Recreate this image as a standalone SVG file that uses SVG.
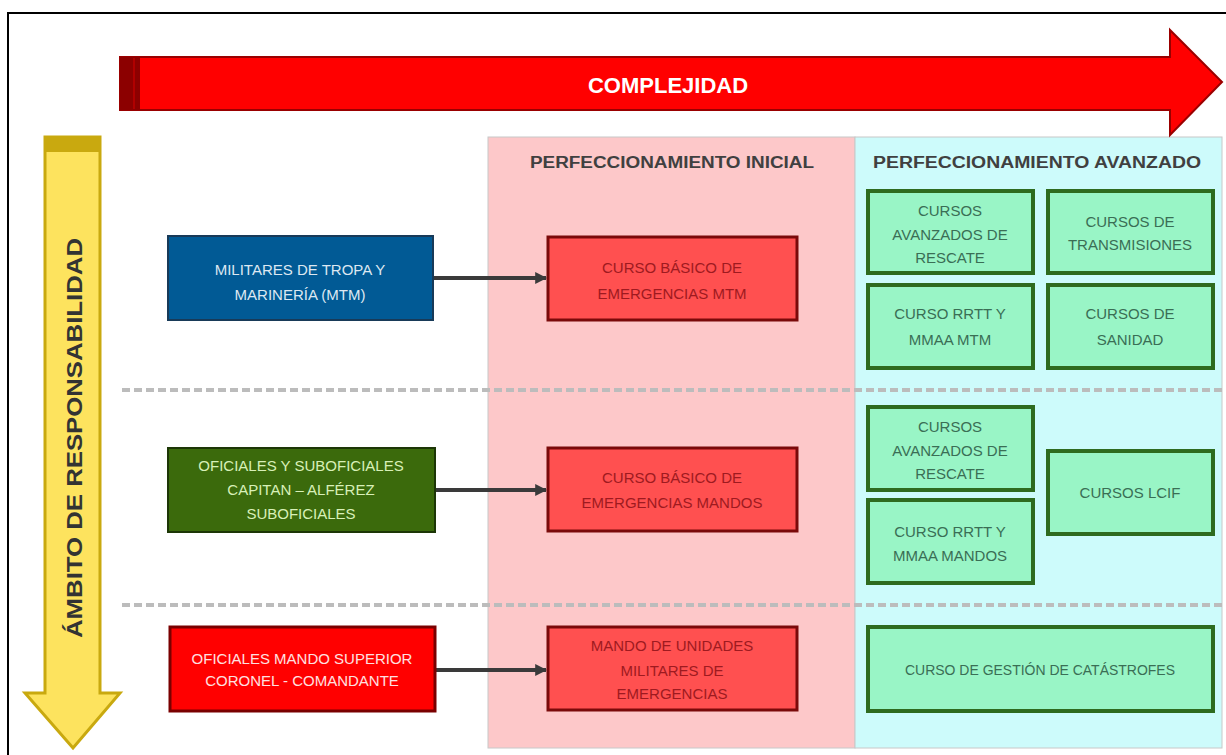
<svg xmlns="http://www.w3.org/2000/svg" width="1226" height="755" viewBox="0 0 1226 755">
<defs>
<style>
.t{font-family:"Liberation Sans",Arial,sans-serif;font-size:15px;text-anchor:middle}
.hd{font-family:"Liberation Sans",Arial,sans-serif;font-size:16px;font-weight:bold;fill:#404040;text-anchor:middle}
.red{fill:#ff5050;stroke:#7a0a0a;stroke-width:3}
.redt{fill:#9e1a20}
.grn{fill:#99f5c6;stroke:#2e6b1f;stroke-width:4}
.grnt{fill:#3a6e55}
.dash{stroke:#bcbcbc;stroke-width:4;stroke-dasharray:8 4}
.conn{stroke:#3a3a3a;stroke-width:4;fill:none;marker-end:url(#ah)}
</style>
<marker id="ah" viewBox="0 0 10 10" refX="9" refY="5" markerWidth="3" markerHeight="3" orient="auto" markerUnits="strokeWidth">
<path d="M0,0 L10,5 L0,10 z" fill="#3a3a3a"/>
</marker>
</defs>
<rect x="0" y="0" width="1226" height="755" fill="#ffffff"/>
<path d="M8,755 V13 H1226" fill="none" stroke="#000" stroke-width="2"/>

<g id="panels">
<rect x="488" y="137" width="367" height="611" fill="#fdc8c9" stroke="#c8c8c8" stroke-width="1"/>
<rect x="855" y="137" width="367" height="611" fill="#cdfbfb" stroke="#c8c8c8" stroke-width="1"/>
<text class="hd" x="672" y="168" textLength="284" lengthAdjust="spacingAndGlyphs">PERFECCIONAMIENTO INICIAL</text>
<text class="hd" x="1037" y="168" textLength="328" lengthAdjust="spacingAndGlyphs">PERFECCIONAMIENTO AVANZADO</text>
</g>

<g id="separators">
<line class="dash" x1="122" y1="390" x2="1222" y2="390"/>
<line class="dash" x1="122" y1="605" x2="1222" y2="605"/>
</g>

<g id="complejidad">
<path d="M120,57 H1170 V30 L1222,82 L1170,135 V110 H120 Z" fill="#ff0000" stroke="#9a0000" stroke-width="2"/>
<rect x="120" y="57" width="20" height="53" fill="#8c0000"/>
<line x1="134" y1="58" x2="134" y2="109" stroke="#b00000" stroke-width="2"/>
<text x="668" y="93" font-family="'Liberation Sans',Arial,sans-serif" font-size="22" font-weight="bold" fill="#ffffff" text-anchor="middle">COMPLEJIDAD</text>
</g>

<g id="ambito">
<path d="M45,137 H100 V693 H120 L73,748 L25,693 H45 Z" fill="#fde35e" stroke="#c9a90f" stroke-width="3"/>
<rect x="46" y="138" width="53" height="14" fill="#c9a90f"/>
<text transform="translate(82,438) rotate(-90)" x="0" y="0" font-family="'Liberation Sans',Arial,sans-serif" font-size="22" font-weight="bold" fill="#333333" text-anchor="middle" textLength="400" lengthAdjust="spacingAndGlyphs">ÁMBITO DE RESPONSABILIDAD</text>
</g>

<g id="connectors">
<line class="conn" x1="433" y1="278" x2="546" y2="278"/>
<line class="conn" x1="435" y1="490" x2="546" y2="490"/>
<line class="conn" x1="435" y1="670" x2="546" y2="670"/>
</g>

<g id="mtm">
<rect x="168" y="236" width="265" height="84" fill="#015a95" stroke="#183a58" stroke-width="2"/>
<text class="t" fill="#dde8f2"><tspan x="300" y="275">MILITARES DE TROPA Y</tspan><tspan x="300" y="300">MARINERÍA (MTM)</tspan></text>
</g>
<g id="basico-mtm">
<rect class="red" x="548" y="237" width="249" height="83"/>
<text class="t redt"><tspan x="672" y="273">CURSO BÁSICO DE</tspan><tspan x="672" y="299">EMERGENCIAS MTM</tspan></text>
</g>
<g id="avanzados-rescate-1">
<rect class="grn" x="868" y="191" width="165" height="82"/>
<text class="t grnt"><tspan x="950" y="216">CURSOS</tspan><tspan x="950" y="240">AVANZADOS DE</tspan><tspan x="950" y="263">RESCATE</tspan></text>
</g>
<g id="transmisiones">
<rect class="grn" x="1048" y="191" width="165" height="82"/>
<text class="t grnt"><tspan x="1130" y="227">CURSOS DE</tspan><tspan x="1130" y="250">TRANSMISIONES</tspan></text>
</g>
<g id="rrtt-mtm">
<rect class="grn" x="868" y="285" width="165" height="83"/>
<text class="t grnt"><tspan x="950" y="319">CURSO RRTT Y</tspan><tspan x="950" y="345">MMAA MTM</tspan></text>
</g>
<g id="sanidad">
<rect class="grn" x="1048" y="285" width="165" height="83"/>
<text class="t grnt"><tspan x="1130" y="319">CURSOS DE</tspan><tspan x="1130" y="345">SANIDAD</tspan></text>
</g>

<g id="oficiales">
<rect x="168" y="448" width="267" height="84" fill="#3b6a0c" stroke="#1c3606" stroke-width="2"/>
<text class="t" fill="#d8f0b8"><tspan x="301" y="471">OFICIALES Y SUBOFICIALES</tspan><tspan x="301" y="495">CAPITAN – ALFÉREZ</tspan><tspan x="301" y="519">SUBOFICIALES</tspan></text>
</g>
<g id="basico-mandos">
<rect class="red" x="548" y="448" width="249" height="83"/>
<text class="t redt"><tspan x="672" y="483">CURSO BÁSICO DE</tspan><tspan x="672" y="508">EMERGENCIAS MANDOS</tspan></text>
</g>
<g id="avanzados-rescate-2">
<rect class="grn" x="868" y="407" width="165" height="83"/>
<text class="t grnt"><tspan x="950" y="432">CURSOS</tspan><tspan x="950" y="456">AVANZADOS DE</tspan><tspan x="950" y="479">RESCATE</tspan></text>
</g>
<g id="rrtt-mandos">
<rect class="grn" x="868" y="500" width="165" height="83"/>
<text class="t grnt"><tspan x="950" y="537">CURSO RRTT Y</tspan><tspan x="950" y="561">MMAA MANDOS</tspan></text>
</g>
<g id="lcif">
<rect class="grn" x="1048" y="451" width="165" height="83"/>
<text class="t grnt" x="1130" y="498">CURSOS LCIF</text>
</g>

<g id="mando-superior">
<rect x="170" y="627" width="265" height="84" fill="#ff0000" stroke="#7a0000" stroke-width="3"/>
<text class="t" fill="#ffe0e0"><tspan x="302" y="664">OFICIALES MANDO SUPERIOR</tspan><tspan x="302" y="686">CORONEL - COMANDANTE</tspan></text>
</g>
<g id="mando-unidades">
<rect class="red" x="548" y="627" width="249" height="83"/>
<text class="t redt"><tspan x="672" y="651">MANDO DE UNIDADES</tspan><tspan x="672" y="676">MILITARES DE</tspan><tspan x="672" y="699">EMERGENCIAS</tspan></text>
</g>
<g id="catastrofes">
<rect class="grn" x="868" y="627" width="345" height="84"/>
<text class="t grnt" x="1040" y="675" textLength="270" lengthAdjust="spacingAndGlyphs">CURSO DE GESTIÓN DE CATÁSTROFES</text>
</g>
</svg>
